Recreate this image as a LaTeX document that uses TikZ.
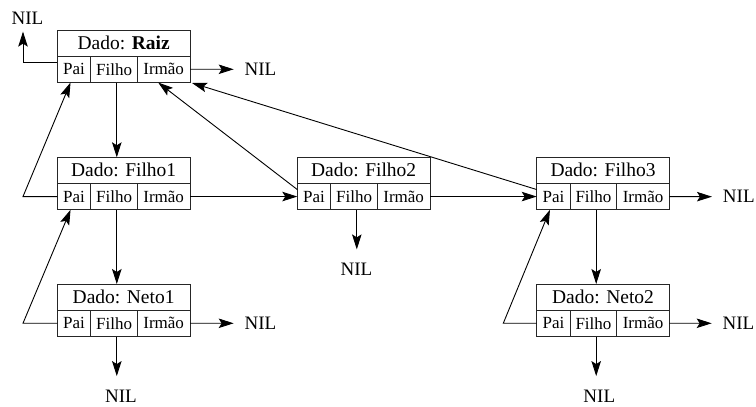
\documentclass[tikz,border=0pt]{standalone}
\usepackage{fontspec}
\setmainfont{Liberation Serif}
\usetikzlibrary{arrows.meta,calc}

\tikzset{
  dado/.style={draw=black!85, line width=0.9pt, minimum width=132.7pt, minimum height=26pt,
               inner sep=0pt, outer sep=0pt, anchor=north west,
               font=\fontsize{19.5}{20}\selectfont},
  cell/.style={draw=black!85, line width=0.9pt, minimum height=26.5pt,
               inner sep=0pt, outer sep=0pt, anchor=north west,
               font=\fontsize{17}{18}\selectfont},
  nilh/.style={inner sep=0pt, outer sep=11pt, font=\fontsize{19}{20}\selectfont},
  nilv/.style={inner sep=0pt, outer sep=14pt, font=\fontsize{19}{20}\selectfont},
  ptr/.style={line width=0.9pt, -{Stealth[length=15pt,width=9.5pt,inset=3pt]}},
}

% One tree record: name, left x, top y, data label
\newcommand\registro[4]{%
  \node[dado] (#1) at (#2,#3) {#4};
  \node[cell, minimum width=33.5pt] (#1-pai) at (#1.south west) {Pai};
  \node[cell, minimum width=46.5pt] (#1-filho) at (#1-pai.north east) {Filho};
  \node[cell, minimum width=52.7pt] (#1-irmao) at (#1-filho.north east) {Irmão};
  \coordinate (#1-fs) at ($(#1-filho.south)+(2.75,0)$);
}

\begin{document}
\begin{tikzpicture}[x=1pt,y=-1pt]
  \useasboundingbox (0,0) rectangle (756,407);

  % records
  \registro{raiz}{57.3}{30}{Dado: \textbf{Raiz}}
  \registro{filho1}{57.3}{157.3}{Dado: Filho1}
  \registro{filho2}{297.3}{157.3}{Dado: Filho2}
  \registro{filho3}{536.7}{157.3}{Dado: Filho3}
  \registro{neto1}{57.3}{284}{Dado: Neto1}
  \registro{neto2}{536.7}{284}{Dado: Neto2}

  % NIL terminals
  \node[nilv, outer sep=7.4pt] (nilA) at (27.5,18) {NIL};
  \node[nilh] (nilB) at (260.5,69.3) {NIL};
  \node[nilv] (nilC) at (356.5,269.6) {NIL};
  \node[nilh] (nilD) at (260.5,323.3) {NIL};
  \node[nilv] (nilE) at (121,396.3) {NIL};
  \node[nilh] (nilF) at (738.8,196.7) {NIL};
  \node[nilh] (nilG) at (738.5,323.3) {NIL};
  \node[nilv] (nilH) at (599.3,396.3) {NIL};

  % bend points of the parent pointers
  \coordinate (b1) at ($(raiz-pai.west)+(-34.3,-6.5)$);
  \coordinate (b2) at ($(filho1-pai.west)+(-34.3,0)$);
  \coordinate (b3) at ($(neto1-pai.west)+(-34.3,0)$);
  \coordinate (b4) at ($(neto2-pai.west)+(-33.4,0)$);

  % raiz
  \draw[ptr] ($(raiz-pai.west)+(0,-6.5)$) -- (b1) -- (b1 |- nilA.south);
  \draw[ptr] (raiz-irmao.east) -- (nilB.west);
  \draw[ptr] (raiz-fs) -- (raiz-fs |- filho1.north);

  % filho1
  \draw[ptr] (filho1-pai.west) -- (b2) -- ($(raiz-pai.south)+(-3.5,0)$);
  \draw[ptr] (filho1-irmao.east) -- (filho2-pai.west);
  \draw[ptr] (filho1-fs) -- (filho1-fs |- neto1.north);

  % neto1
  \draw[ptr] (neto1-pai.west) -- (b3) -- ($(filho1-pai.south)+(-3.5,0)$);
  \draw[ptr] (neto1-irmao.east) -- (nilD.west);
  \draw[ptr] (neto1-fs) -- (neto1-fs |- nilE.north);

  % filho2
  \draw[ptr] ($(filho2-pai.west)+(0,-7)$) -- ($(raiz-irmao.south)+(-5.5,0)$);
  \draw[ptr] (filho2-fs) -- (filho2-fs |- nilC.north);
  \draw[ptr] (filho2-irmao.east) -- (filho3-pai.west);

  % filho3
  \draw[ptr] ($(filho3-pai.west)+(0,-7)$) -- ($(raiz-irmao.south east)+(2,0.5)$);
  \draw[ptr] (filho3-irmao.east) -- (nilF.west);
  \draw[ptr] (filho3-fs) -- (filho3-fs |- neto2.north);

  % neto2
  \draw[ptr] (neto2-pai.west) -- (b4) -- ($(filho3-pai.south)+(-3.5,0)$);
  \draw[ptr] (neto2-irmao.east) -- (nilG.west);
  \draw[ptr] (neto2-fs) -- (neto2-fs |- nilH.north);
\end{tikzpicture}
\end{document}
